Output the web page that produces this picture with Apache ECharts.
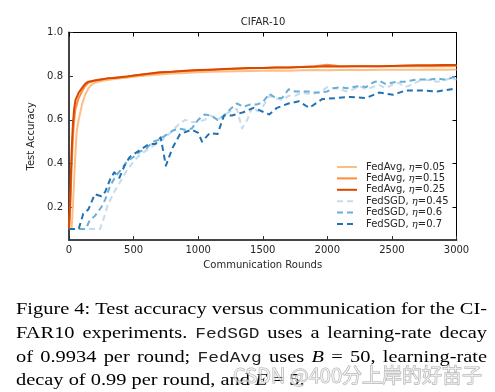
<!DOCTYPE html>
<html><head><meta charset="utf-8">
<script src="https://cdn.jsdelivr.net/npm/echarts@6/dist/echarts.min.js"></script>
<style>html,body{margin:0;padding:0;background:#fff}#c{width:495px;height:392px}</style>
</head><body><div id="c"></div>
<script>
// ---- data ----
const titleText = 'CIFAR-10';
const xTicks = [0, 500, 1000, 1500, 2000, 2500, 3000];
const yTicks = [0.2, 0.4, 0.6, 0.8, 1.0];
const seriesNames = ['FedAvg, η=0.05','FedAvg, η=0.15','FedAvg, η=0.25','FedSGD, η=0.45','FedSGD, η=0.6','FedSGD, η=0.7'];

const avg005Rounds = [0,20,30,40,50,60,75,90,100,125,150,175,200,250,300,350,400,450,500,600,700,800,900,1000,1100,1200,1300,1400,1500,1600,1700,1800,1900,2000,2100,2200,2300,2400,2500,2600,2700,2800,2900,3000];
const avg005Acc    = [0.1,0.1,0.2,0.33,0.45,0.55,0.6,0.64,0.67,0.715,0.745,0.76,0.77,0.778,0.783,0.787,0.79,0.793,0.797,0.803,0.808,0.812,0.815,0.818,0.82,0.822,0.823,0.824,0.825,0.826,0.825,0.827,0.828,0.827,0.828,0.829,0.828,0.83,0.829,0.83,0.83,0.831,0.83,0.831];

const avg015Rounds = [0,10,20,30,40,50,75,100,125,150,200,250,300,350,400,450,500,600,700,800,900,1000,1100,1200,1300,1400,1500,1600,1700,1800,1900,2000,2100,2200,2300,2400,2500,2600,2700,2800,2900,3000];
const avg015Acc    = [0.1,0.2,0.38,0.52,0.6,0.65,0.7,0.73,0.755,0.77,0.78,0.786,0.79,0.793,0.796,0.8,0.802,0.81,0.815,0.82,0.824,0.826,0.83,0.832,0.834,0.836,0.838,0.84,0.84,0.842,0.845,0.852,0.845,0.845,0.846,0.845,0.846,0.847,0.846,0.847,0.846,0.847];

const avg025Rounds = [0,10,20,30,40,50,75,100,125,150,200,250,300,350,400,450,500,600,700,800,900,1000,1100,1200,1300,1400,1500,1600,1700,1800,1900,2000,2100,2200,2300,2400,2500,2600,2700,2800,2900,3000];
const avg025Acc    = [0.1,0.25,0.45,0.58,0.65,0.69,0.725,0.745,0.765,0.775,0.78,0.785,0.79,0.792,0.795,0.798,0.803,0.81,0.818,0.82,0.825,0.828,0.83,0.833,0.835,0.838,0.838,0.84,0.84,0.842,0.843,0.845,0.844,0.845,0.846,0.846,0.847,0.849,0.85,0.85,0.851,0.851];

const sgd045Rounds = [0,50,100,150,200,240,270,
  300,350,400,450,500,550,600,650,700,750,800,850,900,950,1000,1050,1100,1150,1200,1250,1300,
  1340,1380,1420,1460,
  1500,1550,1600,1650,1700,1750,1800,1850,1900,1950,2000,2050,2100,2150,2200,2250,2300,2350,2400,2450,2500,2550,2600,2650,2700,2750,2800,2850,2900,2950,3000];
const sgd045Acc = [0.1,0.1,0.1,0.1,0.1,0.1,0.15,
  0.21,0.27,0.32,0.37,0.41,0.44,0.46,0.48,0.5,0.52,0.55,0.58,0.6,0.59,0.59,0.6,0.62,0.6,0.62,0.64,0.65,
  0.56,0.6,0.66,0.64,
  0.66,0.71,0.7,0.69,0.71,0.71,0.725,0.72,0.72,0.73,0.75,0.745,0.74,0.73,0.74,0.755,0.74,0.75,0.76,0.745,0.76,0.77,0.75,0.76,0.775,0.785,0.78,0.775,0.78,0.79,0.785];

const sgd06Rounds = [0,50,100,130,160,200,250,280,320,360,400,450,500,550,600,650,700,750,800,850,900,950,1000,1050,1100,1150,1200,1250,1300,1350,1400,1450,1500,1550,1600,1650,1700,1750,1800,1850,1900,1950,2000,2050,2100,2150,2200,2250,2300,2350,2400,2450,2500,2550,2600,2650,2700,2750,2800,2850,2900,2950,3000];
const sgd06Acc = [0.1,0.1,0.1,0.1,0.14,0.16,0.2,0.235,0.3,0.34,0.37,0.41,0.43,0.455,0.47,0.5,0.51,0.53,0.55,0.56,0.555,0.56,0.6,0.625,0.62,0.6,0.62,0.65,0.675,0.66,0.67,0.67,0.68,0.72,0.7,0.7,0.74,0.73,0.73,0.73,0.725,0.725,0.73,0.745,0.75,0.745,0.75,0.755,0.75,0.77,0.78,0.765,0.77,0.775,0.775,0.78,0.785,0.785,0.785,0.79,0.785,0.79,0.8];

const sgd07Rounds = [0,50,75,90,110,150,200,250,280,320,350,390,430,470,520,570,620,670,710,750,800,860,950,1000,1030,1090,1150,1200,1260,1350,1430,1510,1550,1610,1700,1780,1860,1960,2070,2180,2300,2400,2510,2610,2730,2850,2960,3000];
const sgd07Acc = [0.1,0.1,0.1,0.13,0.17,0.19,0.26,0.25,0.27,0.33,0.36,0.335,0.39,0.43,0.45,0.47,0.49,0.49,0.52,0.39,0.47,0.535,0.555,0.54,0.5,0.54,0.535,0.62,0.62,0.635,0.655,0.635,0.625,0.655,0.675,0.685,0.655,0.695,0.7,0.705,0.7,0.725,0.715,0.735,0.735,0.73,0.74,0.74];

const captionLines = [
  {justify:true, segs:[['s','Figure 4: Test accuracy versus communication for the CI-']]},
  {justify:true, segs:[['s','FAR10 experiments.'],['m','FedSGD'],['s','uses a learning-rate decay']]},
  {justify:true, segs:[['s','of 0.9934 per round;'],['m','FedAvg'],['s','uses'],['i','B'],['s','='],['s','50, learning-rate']]},
  {justify:false, segs:[['s','decay of 0.99 per round, and'],['i','E'],['s','='],['s','5.']]}
];
const watermarkText = 'CSDN @400分上岸的好苗子';

// ---- build ----
const colors = ['#fdbe85','#fd8d3c','#d94801','#c6dbef','#6baed6','#2171b5'];
const roundsList = [avg005Rounds, avg015Rounds, avg025Rounds, sgd045Rounds, sgd06Rounds, sgd07Rounds];
const accList = [avg005Acc, avg015Acc, avg025Acc, sgd045Acc, sgd06Acc, sgd07Acc];

const G = {left: 69, right: 38.5, top: 32.5, bottom: 152};
const sansFont = '"DejaVu Sans", sans-serif';

const series = seriesNames.map((name, k) => ({
  name, type: 'line', xAxisIndex: 0, yAxisIndex: 0,
  symbol: 'none', showSymbol: false, animation: false,
  data: roundsList[k].map((r, i) => [r, accList[k][i]]),
  lineStyle: {color: colors[k], width: 2, type: k < 3 ? 'solid' : [6, 4], cap: 'butt', join: 'round'},
  itemStyle: {color: colors[k]},
  z: 2 + k
}));

// caption layout (justified, horizontally stretched like the source image)
const FS = 16.5;
const fonts = {
  s: FS + 'px "Liberation Serif", "Times New Roman", serif',
  m: (FS * 0.875).toFixed(2) + 'px "Liberation Mono", "Courier New", monospace',
  i: 'italic ' + FS + 'px "Liberation Serif", "Times New Roman", serif'
};
const ctx = document.createElement('canvas').getContext('2d');
function measure(t, f) { ctx.font = fonts[f]; return ctx.measureText(t).width; }
const capLeft = 16, capRight = 487;
const baselines = [315, 339, 363, 386];
function splitWords(line) {
  const words = [];
  line.segs.forEach(([f, t]) => t.split(' ').forEach(w => { if (w) words.push({t: w, f}); }));
  return words;
}
const spaceW = measure(' ', 's');
const l0 = splitWords(captionLines[0]);
const natural0 = l0.reduce((a, w) => a + measure(w.t, w.f), 0) + spaceW * (l0.length - 1);
const SX = (capRight - capLeft) / natural0;
const captionGraphics = [];
captionLines.forEach((line, li) => {
  const words = splitWords(line);
  const widths = words.map(w => measure(w.t, w.f) * SX);
  const total = widths.reduce((a, b) => a + b, 0);
  const gap = line.justify ? (capRight - capLeft - total) / (words.length - 1) : spaceW * SX;
  let x = capLeft;
  words.forEach((w, i) => {
    captionGraphics.push({type: 'text', x: x, y: baselines[li] - 5, scaleX: SX, silent: true,
      style: {text: w.t, font: fonts[w.f], fill: w.f === 'm' ? '#222' : '#000', verticalAlign: 'middle', align: 'left'}});
    x += widths[i] + gap;
  });
});

const chart = echarts.init(document.getElementById('c'), null, {renderer: 'canvas'});
const axisText = {color: '#262626', fontFamily: sansFont, fontSize: 10};

chart.setOption({
  backgroundColor: '#fff',
  animation: false,
  grid: G,
  legend: {
    orient: 'vertical', left: 331, top: 157,
    itemWidth: 20, itemHeight: 9, itemGap: 1.4,
    data: seriesNames,
    itemStyle: {opacity: 0},
    textStyle: {color: '#262626', fontFamily: sansFont, fontSize: 10, padding: [0, 0, 0, 4],
      rich: {i: {fontStyle: 'italic', fontFamily: '"DejaVu Serif", serif', fontSize: 10, color: '#262626'}}},
    formatter: n => n.replace('η', '{i|η}'),
    selectedMode: false
  },
  xAxis: [{
    type: 'value', min: 0, max: 3000, interval: 500, position: 'bottom',
    name: 'Communication Rounds', nameLocation: 'middle', nameGap: 20,
    nameTextStyle: axisText,
    axisLine: {onZero: false, lineStyle: {color: '#444', width: 2}},
    axisTick: {inside: true, length: 4, lineStyle: {color: '#333', width: 1}},
    axisLabel: Object.assign({margin: 5, formatter: v => String(v)}, axisText),
    splitLine: {show: false}
  }, {
    type: 'value', min: 0, max: 3000, interval: 500, position: 'top',
    axisLine: {onZero: false, lineStyle: {color: '#000', width: 1}},
    axisTick: {inside: true, length: 4, lineStyle: {color: '#000'}},
    axisLabel: {show: false}, splitLine: {show: false}
  }],
  yAxis: [{
    type: 'value', min: 0.05, max: 1.0, position: 'left',
    name: 'Test Accuracy', nameLocation: 'middle', nameGap: 24, nameRotate: 90,
    nameTextStyle: axisText,
    axisLine: {show: true, onZero: false, lineStyle: {color: '#444', width: 2}},
    axisTick: {show: true, inside: true, length: 4, customValues: yTicks, lineStyle: {color: '#333'}},
    axisLabel: Object.assign({margin: 6, customValues: yTicks, formatter: v => (+v).toFixed(1)}, axisText),
    splitLine: {show: false}
  }, {
    type: 'value', min: 0.05, max: 1.0, position: 'right',
    axisLine: {show: true, onZero: false, lineStyle: {color: '#000', width: 1}},
    axisTick: {show: true, inside: true, length: 4, customValues: yTicks, lineStyle: {color: '#000'}},
    axisLabel: {show: false, customValues: yTicks}, splitLine: {show: false}
  }],
  series: series,
  graphic: [
    {type: 'text', x: 263, y: 22, silent: true,
      style: {text: titleText, font: '10px ' + sansFont, fill: '#262626', align: 'center', verticalAlign: 'middle'}},
    ...captionGraphics,
    {type: 'text', x: 233, y: 375, silent: true, z: 100,
      style: {text: watermarkText, font: '20px "Noto Sans CJK SC", "Noto Sans", sans-serif',
        fill: 'rgba(255,255,255,0.55)', stroke: 'rgba(110,110,110,0.55)', lineWidth: 1,
        align: 'left', verticalAlign: 'middle'}}
  ]
});
</script>
</body></html>
